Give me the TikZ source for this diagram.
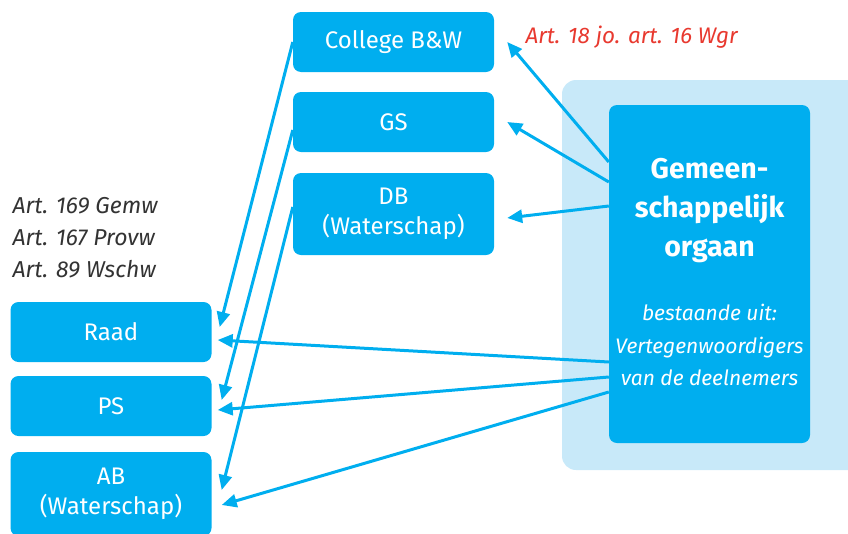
\documentclass[tikz,border=0pt]{standalone}
\usepackage{fontspec}
\setmainfont{Fira Sans}
\usetikzlibrary{arrows.meta}
\definecolor{orgblue}{HTML}{00AEEF}
\definecolor{orglight}{HTML}{C8E9F9}
\definecolor{artred}{HTML}{E8392F}
\definecolor{artgrey}{HTML}{333333}
\tikzset{
  orgbox/.style={rounded corners=8pt, fill=orgblue, text=white, align=center,
    minimum width=201pt, font=\fontsize{24}{30}\selectfont\addfontfeatures{Weight=300}},
  link/.style={orgblue, line width=3pt, -{Triangle[length=15pt,width=13pt]}}
}
\begin{document}
\begin{tikzpicture}[x=1pt,y=-1pt]
\useasboundingbox (0,0) rectangle (848,533);
\fill[orglight, rounded corners=14pt] (562,80) rectangle (870,470);
\node[orgbox, minimum height=60pt] (college) at (393.5,42) {College B\&W};
\node[orgbox, minimum height=60pt] (gs) at (393.5,122) {GS};
\node[orgbox, minimum height=82pt] (db) at (393.5,214) {DB\\(Waterschap)};
\node[orgbox, minimum height=60pt] (raad) at (111,332) {Raad};
\node[orgbox, minimum height=60pt] (ps) at (111,406) {PS};
\node[orgbox, minimum height=84pt] (ab) at (111,494) {AB\\(Waterschap)};
\node[orgbox, minimum width=201pt, minimum height=338pt] (go) at (709.5,274) {};
\node[text=white, align=center, font=\fontsize{28.5}{39}\selectfont\bfseries] (gotitle) at (709.5,211) {Gemeen-\\schappelijk\\orgaan};
\node[text=white, align=center, font=\fontsize{21}{32.5}\selectfont\itshape\addfontfeatures{Weight=300}] (gosub) at (709.5,345) {bestaande uit:\\Vertegenwoordigers\\van de deelnemers};
\node[text=artred, anchor=west, font=\fontsize{22.5}{26}\selectfont\itshape\addfontfeatures{Weight=300}] (wgr) at (522,37) {Art. 18 jo. art. 16 Wgr};
\node[text=artgrey, anchor=west, align=left, font=\fontsize{23}{32}\selectfont\itshape\addfontfeatures{Weight=300}] (wet) at (9,238) {Art. 169 Gemw\\Art. 167 Provw\\Art. 89 Wschw};
% van de colleges naar de vertegenwoordigende organen
\draw[link] (college.west) -- ([xshift=8pt,yshift=5pt]raad.east);
\draw[link] ([yshift=-8pt]gs.west) -- ([xshift=10pt,yshift=6pt]ps.east);
\draw[link] ([yshift=7pt]db.west) -- ([xshift=10pt,yshift=4pt]ab.east);
% vanuit het gemeenschappelijk orgaan
\draw[link] ([yshift=112pt]go.west) -- ([xshift=13pt]college.east);
\draw[link] ([yshift=92pt]go.west) -- ([xshift=13pt]gs.east);
\draw[link] ([yshift=68pt]go.west) -- ([xshift=13pt,yshift=-4pt]db.east);
\draw[link] ([yshift=-88pt]go.west) -- ([xshift=6pt,yshift=-8pt]raad.east);
\draw[link] ([yshift=-103pt]go.west) -- ([xshift=6pt,yshift=-4pt]ps.east);
\draw[link] ([yshift=-118pt]go.west) -- ([xshift=10pt,yshift=-11pt]ab.east);
\end{tikzpicture}
\end{document}
